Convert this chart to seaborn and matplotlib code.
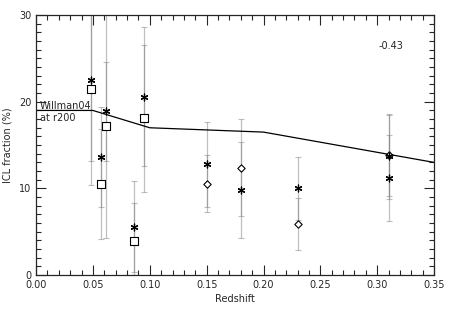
import seaborn as sns
import matplotlib.pyplot as plt
from matplotlib.ticker import MultipleLocator

# asterisks
z_ast = [0.048, 0.0575, 0.0613, 0.0865, 0.0953, 0.150, 0.180, 0.230, 0.310, 0.310]
f_ast = [22.5, 13.65, 18.9, 5.6, 20.6, 12.8, 9.8, 10.0, 13.7, 11.2]
e_ast = [9.3, 5.8, 5.7, 5.2, 8.0, 4.9, 5.5, 3.6, 4.9, 5.0]

# open squares
z_sq = [0.048, 0.0575, 0.0613, 0.0865, 0.0953]
f_sq = [21.5, 10.5, 17.15, 3.95, 18.1]
e_sq = [11.1, 6.4, 12.9, 4.4, 8.5]

# open diamonds
z_dia = [0.150, 0.180, 0.230, 0.310]
f_dia = [10.55, 12.4, 5.9, 13.8]
e_dia = [3.25, 5.6, 3.0, 4.7]

# Willman04 model curve
z_w = [0.0, 0.05, 0.10, 0.20, 0.35]
f_w = [19.0, 19.0, 17.0, 16.5, 13.0]

sns.set_style("ticks")
plt.rcParams['font.family'] = ['DejaVu Sans']

fig = plt.figure(figsize=(4.56, 3.2), dpi=100)
ax = fig.add_axes([0.079, 0.1406, 0.873, 0.812])

# error bars (semi-transparent grey so the overlaps look darker)
for z, f, e in [(z_ast, f_ast, e_ast), (z_sq, f_sq, e_sq), (z_dia, f_dia, e_dia)]:
	ax.errorbar(z, f, yerr=e, fmt='none', ecolor='gray', alpha=0.5,
	            elinewidth=0.9, capsize=2, capthick=0.8, zorder=1)

sns.lineplot(x=z_w, y=f_w, color='black', linewidth=0.9, ax=ax, zorder=2)

sns.scatterplot(x=z_sq, y=f_sq, marker='s', s=28, facecolor='white',
                edgecolor='black', linewidth=0.8, ax=ax, zorder=3)
sns.scatterplot(x=z_dia, y=f_dia, marker='D', s=14, facecolor='white',
                edgecolor='black', linewidth=0.8, ax=ax, zorder=3)
sns.scatterplot(x=z_ast, y=f_ast, marker=(6, 2, 0), s=24, color='black',
                edgecolor='black', linewidth=0.9, ax=ax, zorder=4)

ax.text(0.0035, 19.5, "Willman04", fontsize=7, va='center', ha='left')
ax.text(0.0035, 18.1, "at r200", fontsize=7, va='center', ha='left')
ax.text(0.301, 26.4, "-0.43", fontsize=7, va='center', ha='left')

ax.set_xlim(0.0, 0.35)
ax.set_ylim(0, 30)
ax.xaxis.set_major_locator(MultipleLocator(0.05))
ax.xaxis.set_minor_locator(MultipleLocator(0.01))
ax.yaxis.set_major_locator(MultipleLocator(10))
ax.yaxis.set_minor_locator(MultipleLocator(1))
ax.set_xticks([0.0, 0.05, 0.10, 0.15, 0.20, 0.25, 0.30, 0.35])
ax.set_xticklabels(["0.00", "0.05", "0.10", "0.15", "0.20", "0.25", "0.30", "0.35"])
ax.tick_params(which='both', direction='in', top=True, right=True, labelsize=7, width=0.8)
ax.tick_params(which='major', length=7)
ax.tick_params(which='minor', length=3.5)
for sp in ax.spines.values():
	sp.set_linewidth(0.9)

ax.set_xlabel("Redshift", fontsize=7, labelpad=3)
ax.set_ylabel("ICL fraction (%)", fontsize=7)
ax.yaxis.set_label_coords(-0.06, 0.5)

fig.savefig("out.png", dpi=100)
